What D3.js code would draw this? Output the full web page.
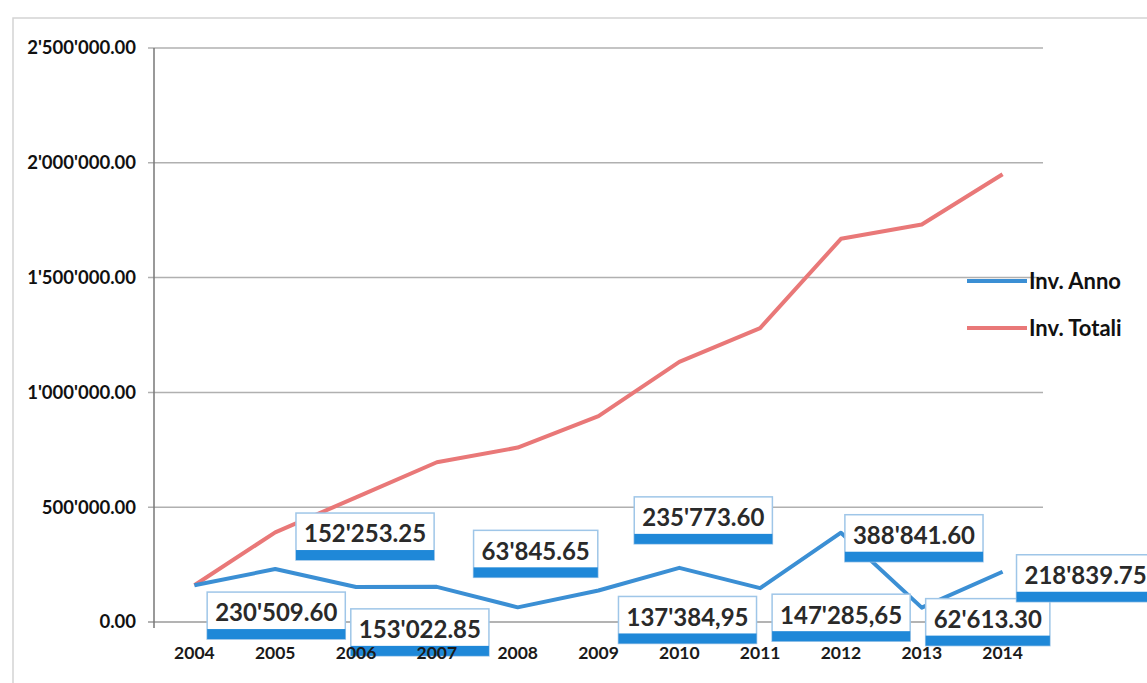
<!DOCTYPE html>
<html>
<head>
<meta charset="utf-8">
<script src="https://cdn.jsdelivr.net/npm/d3@7"></script>
<style>
  body { margin: 0; background: #fff; }
  svg { font-family: Lato, "Open Sans", sans-serif; }
</style>
</head>
<body>
<svg width="1147" height="683"></svg>
<script>
// values
const years = ["2004", "2005", "2006", "2007", "2008", "2009", "2010", "2011", "2012", "2013", "2014"];
const invAnno = [160000, 230509.60, 152253.25, 153022.85, 63845.65, 137384.95, 235773.60, 147285.65, 388841.60, 62613.30, 218839.75];
const invTotali = [160000, 390510, 542760, 695780, 759630, 897010, 1132790, 1280070, 1668910, 1731530, 1950370];
const labelText = [null, "230'509.60", "152'253.25", "153'022.85", "63'845.65", "137'384,95", "235'773.60", "147'285,65", "388'841.60", "62'613.30", "218'839.75"];
const yTicks = [0, 500000, 1000000, 1500000, 2000000, 2500000];

// where the data label boxes were dragged to (px from the point)
const labelOffsets = [null, [1, 47], [9, -50], [-17, 46], [18, -53], [89, 30], [24, -47], [81, 30], [73, 6], [66, 15], [83, 7]];

const blue = "#3b8fd4";
const red = "#e97878";

const svg = d3.select("svg");

// chart border (scan frame)
svg.append("path")
  .attr("d", "M13,683 V18 H1147")
  .attr("fill", "none")
  .attr("stroke", "#d4d4d4")
  .attr("stroke-width", 1.5);

const x = d3.scaleBand().domain(years).range([154, 1043]).padding(0);
const y = d3.scaleLinear().domain([0, 2500000]).range([622, 48]);
const cx = d => x(d) + x.bandwidth() / 2;

const fmt = v => d3.format(",.2f")(v).replace(/,/g, "'");

// gridlines
svg.append("g").selectAll("line").data(yTicks).join("line")
  .attr("x1", 148).attr("x2", 1043)
  .attr("y1", d => y(d)).attr("y2", d => y(d))
  .attr("stroke", d => d === 0 ? "#9a9a9a" : "#b0b0b0")
  .attr("stroke-width", 1.5);

// y axis line
svg.append("line")
  .attr("x1", 154).attr("x2", 154)
  .attr("y1", y(2500000)).attr("y2", y(0) + 6)
  .attr("stroke", "#777").attr("stroke-width", 1.5);

// y tick labels
svg.append("g").selectAll("text").data(yTicks).join("text")
  .attr("x", 136).attr("y", d => y(d))
  .attr("dy", "0.35em")
  .attr("text-anchor", "end")
  .attr("font-size", 18.5)
  .attr("font-weight", 700)
  .attr("fill", "#111")
  .text(fmt);

const line = d3.line()
  .x((d, i) => cx(years[i]))
  .y(d => y(d));

svg.append("path")
  .datum(invTotali)
  .attr("d", line)
  .attr("fill", "none")
  .attr("stroke", red)
  .attr("stroke-width", 4)
  .attr("stroke-linejoin", "round");

svg.append("path")
  .datum(invAnno)
  .attr("d", line)
  .attr("fill", "none")
  .attr("stroke", blue)
  .attr("stroke-width", 4)
  .attr("stroke-linejoin", "round");

// data label callouts
const labels = svg.append("g").selectAll("g")
  .data(years.map((yr, i) => ({yr, i})).filter(d => labelText[d.i]))
  .join("g")
  .attr("transform", d => {
    const o = labelOffsets[d.i];
    return `translate(${cx(d.yr) + o[0]},${y(invAnno[d.i]) + o[1]})`;
  });

labels.append("text")
  .attr("text-anchor", "middle")
  .attr("y", -3)
  .attr("dy", "0.35em")
  .attr("font-size", 24)
  .attr("font-weight", 700)
  .attr("fill", "#2a2a2a")
  .text(d => labelText[d.i])
  .each(function(d) { d.w = this.getComputedTextLength(); });

labels.insert("rect", "text")
  .attr("x", d => -d.w / 2 - 8).attr("y", -24)
  .attr("width", d => d.w + 16).attr("height", 47)
  .attr("fill", "#fff")
  .attr("stroke", "#9fc6e8")
  .attr("stroke-width", 1.5);

labels.insert("rect", "text")
  .attr("x", d => -d.w / 2 - 8).attr("y", 13)
  .attr("width", d => d.w + 16).attr("height", 10)
  .attr("fill", "#1f88d8");

// x tick labels (drawn over the callouts, as in the original)
svg.append("g").selectAll("text").data(years).join("text")
  .attr("x", d => cx(d)).attr("y", 653)
  .attr("dy", "0.35em")
  .attr("text-anchor", "middle")
  .attr("font-size", 17.5)
  .attr("font-weight", 700)
  .attr("fill", "#1a1a1a")
  .text(d => d);

// legend
const legend = svg.append("g").selectAll("g")
  .data([{name: "Inv. Anno", color: blue, y: 281}, {name: "Inv. Totali", color: red, y: 328}])
  .join("g")
  .attr("transform", d => `translate(967,${d.y})`);

legend.append("line")
  .attr("x1", 0).attr("x2", 60)
  .attr("stroke", d => d.color)
  .attr("stroke-width", 4);

legend.append("text")
  .attr("x", 62)
  .attr("dy", "0.35em")
  .attr("font-size", 22)
  .attr("font-weight", 700)
  .attr("fill", "#111")
  .text(d => d.name);
</script>
</body>
</html>
